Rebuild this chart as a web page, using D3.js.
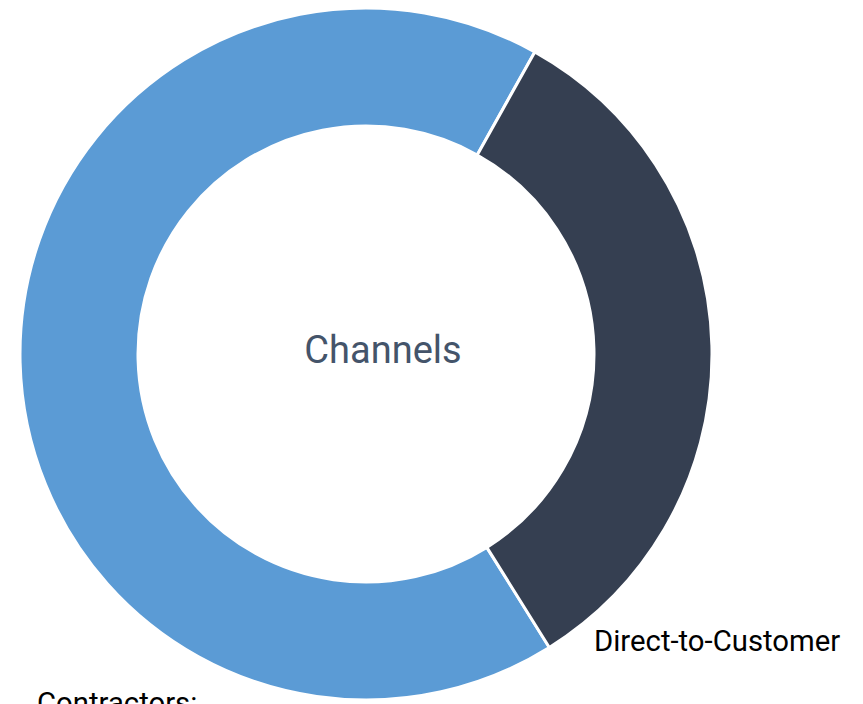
<!DOCTYPE html>
<html><head><meta charset="utf-8">
<script src="https://cdn.jsdelivr.net/npm/d3@7"></script>
<style>html,body{margin:0;padding:0;background:#fff;overflow:hidden}</style>
</head><body>
<svg id="chart" width="863" height="704"></svg>
<script>
const categories = ["Contractors", "Direct-to-Customer"];
const values = [67, 33];
const labels = ["Contractors:", "Direct-to-Customer"];
const colors = ["#5b9bd5", "#353f51"];
const centerTitle = "Channels";

const svg = d3.select("#chart");
const cx = 366, cy = 354, R = 346, r = 228;
const g = svg.append("g").attr("transform", `translate(${cx},${cy})`);

const startDeg = 148;
const pie = d3.pie().sort(null)
  .startAngle(startDeg * Math.PI / 180)
  .endAngle((startDeg + 360) * Math.PI / 180);
const arcs = pie(values);
const arc = d3.arc().innerRadius(r).outerRadius(R);
const color = d3.scaleOrdinal().domain(categories).range(colors);

g.selectAll("path").data(arcs).join("path")
  .attr("d", arc)
  .attr("fill", (d, i) => color(categories[i]))
  .attr("stroke", "#fff").attr("stroke-width", 3);

g.append("text").attr("x", 17).attr("y", 9)
  .attr("text-anchor", "middle")
  .attr("font-family", "Roboto, sans-serif").attr("font-size", 38)
  .attr("fill", "#44546a").text(centerTitle);

const labelPos = [[-329, 359], [228, 297]];
g.selectAll("text.lbl").data(arcs).join("text").attr("class", "lbl")
  .attr("x", (d, i) => labelPos[i][0]).attr("y", (d, i) => labelPos[i][1])
  .attr("font-family", "Roboto, sans-serif").attr("font-size", 29.3)
  .attr("fill", "#000").text((d, i) => labels[i]);
</script>
</body></html>
